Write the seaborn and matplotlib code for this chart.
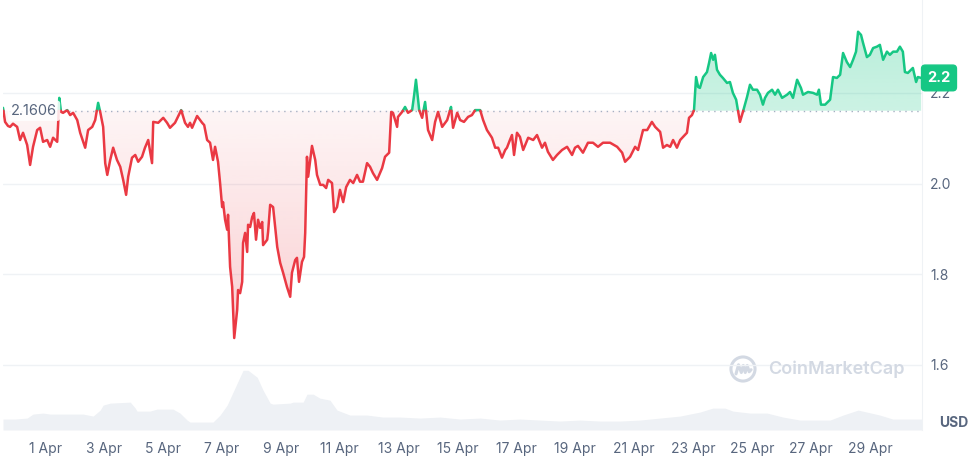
import numpy as np
import pandas as pd
import matplotlib
matplotlib.use("Agg")
import matplotlib.pyplot as plt
import seaborn as sns
from matplotlib.path import Path
from matplotlib.patches import Circle
from matplotlib.colors import to_rgb
from matplotlib.transforms import blended_transform_factory

# price: days since 1 Apr 00:00 and price in USD
t_days = [
    -1.43, -1.36, -1.26, -1.19, -1.09, -0.95, -0.85, -0.75, -0.61, -0.51,
    -0.41, -0.27, -0.17, -0.07, 0.07, 0.17, 0.27, 0.41, 0.44, 0.48,
    0.54, 0.61, 0.75, 0.85, 0.95, 1.09, 1.19, 1.36, 1.46, 1.60,
    1.70, 1.80, 1.87, 1.97, 2.04, 2.11, 2.21, 2.31, 2.44, 2.55,
    2.65, 2.75, 2.82, 2.95, 3.06, 3.16, 3.29, 3.39, 3.50, 3.63,
    3.67, 3.84, 4.01, 4.14, 4.24, 4.41, 4.62, 4.75, 4.85, 4.92,
    4.99, 5.16, 5.33, 5.40, 5.50, 5.60, 5.70, 5.77, 5.87, 5.94,
    6.01, 6.04, 6.11, 6.18, 6.21, 6.28, 6.35, 6.42, 6.52, 6.55,
    6.62, 6.69, 6.72, 6.79, 6.86, 6.89, 6.96, 7.03, 7.09, 7.16,
    7.23, 7.30, 7.37, 7.40, 7.54, 7.57, 7.64, 7.74, 7.81, 7.88,
    7.98, 8.08, 8.21, 8.32, 8.38, 8.49, 8.55, 8.62, 8.72, 8.79,
    8.83, 8.89, 8.93, 9.06, 9.17, 9.23, 9.34, 9.44, 9.54, 9.61,
    9.74, 9.81, 9.91, 10.01, 10.12, 10.22, 10.35, 10.46, 10.59, 10.69,
    10.79, 10.93, 11.03, 11.13, 11.27, 11.44, 11.54, 11.68, 11.75, 11.81,
    11.95, 11.98, 12.12, 12.22, 12.32, 12.46, 12.53, 12.59, 12.70, 12.80,
    12.90, 13.00, 13.14, 13.24, 13.34, 13.48, 13.65, 13.78, 13.85, 13.99,
    14.09, 14.22, 14.36, 14.49, 14.60, 14.77, 14.87, 15.00, 15.17, 15.28,
    15.38, 15.51, 15.62, 15.68, 15.78, 15.85, 15.92, 16.02, 16.12, 16.23,
    16.40, 16.57, 16.70, 16.87, 16.97, 17.07, 17.24, 17.38, 17.55, 17.72,
    17.89, 17.99, 18.09, 18.26, 18.43, 18.60, 18.77, 18.94, 19.18, 19.42,
    19.59, 19.69, 19.86, 20.03, 20.13, 20.30, 20.44, 20.60, 20.71, 20.88,
    20.98, 21.11, 21.22, 21.32, 21.45, 21.56, 21.66, 21.79, 21.86, 21.96,
    22.03, 22.10, 22.17, 22.23, 22.34, 22.47, 22.54, 22.61, 22.68, 22.74,
    22.81, 22.91, 23.01, 23.15, 23.25, 23.35, 23.46, 23.52, 23.59, 23.69,
    23.83, 23.93, 24.03, 24.17, 24.27, 24.37, 24.44, 24.54, 24.68, 24.78,
    24.88, 25.02, 25.19, 25.29, 25.39, 25.53, 25.66, 25.73, 25.90, 26.07,
    26.21, 26.27, 26.34, 26.48, 26.65, 26.75, 26.88, 26.99, 27.09, 27.22,
    27.33, 27.43, 27.53, 27.60, 27.70, 27.77, 27.90, 28.00, 28.11, 28.24,
    28.34, 28.45, 28.58, 28.68, 28.79, 28.92, 29.02, 29.12, 29.19, 29.29,
    29.46, 29.57, 29.63, 29.74,
]
price = [
    2.167, 2.136, 2.127, 2.125, 2.132, 2.125, 2.096, 2.112, 2.085, 2.041,
    2.081, 2.118, 2.123, 2.092, 2.096, 2.081, 2.101, 2.092, 2.129, 2.189,
    2.158, 2.156, 2.162, 2.151, 2.156, 2.140, 2.112, 2.079, 2.118, 2.125,
    2.140, 2.178, 2.158, 2.125, 2.045, 2.019, 2.052, 2.079, 2.052, 2.037,
    2.008, 1.975, 2.015, 2.057, 2.063, 2.048, 2.059, 2.079, 2.096, 2.045,
    2.136, 2.134, 2.145, 2.134, 2.123, 2.134, 2.162, 2.134, 2.125, 2.134,
    2.123, 2.149, 2.134, 2.129, 2.096, 2.090, 2.052, 2.081, 2.048, 2.001,
    1.948, 1.959, 1.920, 1.898, 1.931, 1.816, 1.772, 1.659, 1.721, 1.765,
    1.758, 1.783, 1.869, 1.891, 1.849, 1.909, 1.904, 1.926, 1.935, 1.876,
    1.920, 1.902, 1.915, 1.864, 1.876, 1.893, 1.953, 1.948, 1.904, 1.860,
    1.825, 1.803, 1.772, 1.750, 1.803, 1.831, 1.836, 1.783, 1.827, 1.838,
    1.891, 2.059, 2.015, 2.083, 2.052, 2.019, 1.997, 1.997, 1.990, 2.008,
    2.001, 1.937, 1.948, 1.986, 1.959, 1.992, 2.008, 2.001, 2.019, 2.004,
    2.004, 2.045, 2.037, 2.023, 2.008, 2.034, 2.059, 2.068, 2.158, 2.156,
    2.125, 2.147, 2.158, 2.169, 2.156, 2.162, 2.196, 2.229, 2.162, 2.145,
    2.180, 2.118, 2.096, 2.136, 2.158, 2.125, 2.140, 2.169, 2.123, 2.156,
    2.140, 2.136, 2.147, 2.151, 2.162, 2.162, 2.140, 2.118, 2.101, 2.079,
    2.079, 2.057, 2.074, 2.079, 2.096, 2.107, 2.063, 2.112, 2.103, 2.074,
    2.101, 2.096, 2.107, 2.079, 2.090, 2.070, 2.052, 2.063, 2.074, 2.081,
    2.063, 2.079, 2.083, 2.068, 2.090, 2.090, 2.081, 2.090, 2.090, 2.081,
    2.068, 2.048, 2.059, 2.081, 2.074, 2.118, 2.118, 2.136, 2.125, 2.114,
    2.079, 2.085, 2.081, 2.096, 2.079, 2.096, 2.103, 2.112, 2.145, 2.151,
    2.162, 2.235, 2.213, 2.211, 2.235, 2.246, 2.266, 2.288, 2.273, 2.284,
    2.251, 2.240, 2.233, 2.222, 2.224, 2.200, 2.185, 2.162, 2.136, 2.158,
    2.191, 2.218, 2.207, 2.207, 2.196, 2.174, 2.189, 2.200, 2.207, 2.196,
    2.207, 2.189, 2.196, 2.202, 2.189, 2.229, 2.211, 2.196, 2.202, 2.200,
    2.196, 2.207, 2.174, 2.174, 2.185, 2.235, 2.233, 2.240, 2.288, 2.268,
    2.257, 2.273, 2.291, 2.335, 2.328, 2.310, 2.279, 2.284, 2.299, 2.302,
    2.306, 2.273, 2.291, 2.284, 2.291, 2.291, 2.302, 2.291, 2.246, 2.244,
    2.255, 2.224, 2.235, 2.233,
]

# trading volume (relative), same time axis
vol_t = [
    -1.43, -1.02, -0.61, -0.41, -0.07, 0.17, 1.29, 1.63, 1.87, 1.97,
    2.21, 2.89, 3.06, 3.12, 3.56, 3.80, 4.34, 4.58, 4.82, 4.92,
    5.70, 5.94, 6.18, 6.38, 6.72, 6.89, 7.20, 7.40, 7.64, 7.74,
    8.32, 8.42, 8.76, 8.89, 9.10, 9.33, 9.67, 9.91, 10.35, 10.93,
    11.47, 12.05, 12.73, 13.41, 14.09, 14.77, 15.44, 16.12, 16.80, 17.48,
    18.16, 18.84, 19.52, 20.20, 20.88, 21.56, 21.89, 22.23, 22.67, 23.08,
    23.35, 23.93, 24.51, 25.05, 25.63, 26.65, 27.09, 27.60, 27.90, 28.34,
    28.78, 29.77,
]
volume = [
    11, 11, 12, 16, 17, 16, 16, 14, 20, 25,
    27, 28, 22, 19, 19, 21, 21, 17, 10, 8,
    8, 15, 25, 38, 60, 60, 53, 40, 27, 26,
    27, 28, 28, 36, 36, 32, 30, 20, 15, 15,
    13, 13, 12, 13, 11, 12, 10, 11, 10, 9,
    10, 9, 9, 10, 12, 14, 16, 18, 22, 22,
    19, 17, 17, 13, 10, 10, 15, 20, 18, 15,
    11, 11,
]

base_price = 2.1606
base_label = "2.1606"
last_label = "2.2"
xtick_days = [0, 2, 4, 6, 8, 10, 12, 14, 16, 18, 20, 22, 24, 26, 28]
xtick_labels = ["1 Apr", "3 Apr", "5 Apr", "7 Apr", "9 Apr", "11 Apr", "13 Apr",
                "15 Apr", "17 Apr", "19 Apr", "21 Apr", "23 Apr", "25 Apr",
                "27 Apr", "29 Apr"]
ytick_vals = [1.6, 1.8, 2.0, 2.2]
ytick_labels = ["1.6", "1.8", "2.0", "2.2"]

RED = "#ea3943"
GREEN = "#16c784"
GREY = "#58667e"
GRID = "#eff2f5"

sns.set_style("white")
plt.rcParams["font.family"] = ["Inter", "DejaVu Sans"]

fig = plt.figure(figsize=(9.75, 4.58), dpi=100)
ax = fig.add_axes([3 / 975, 28 / 458, 919 / 975, 430 / 458])
ax2 = ax.twinx()
ax.set_zorder(ax2.get_zorder() + 1)
ax.patch.set_visible(False)

# volume band at the bottom
ax2.fill_between(vol_t, volume, color="#eef1f5", lw=0)
ax2.set_ylim(0, max(volume) * 7.2)
ax2.set_yticks([])
for s in ax2.spines.values():
    s.set_visible(False)

# split the price line where it crosses the opening price
t = np.array(t_days)
p = np.array(price)
rows = []
seg = 0
cur = p[0] >= base_price
for i in range(len(t)):
    up = p[i] >= base_price
    if i > 0 and up != cur:
        f = (base_price - p[i - 1]) / (p[i] - p[i - 1])
        tc = t[i - 1] + f * (t[i] - t[i - 1])
        rows.append((tc, base_price, seg, "up" if cur else "down"))
        seg += 1
        rows.append((tc, base_price, seg, "up" if up else "down"))
        cur = up
    rows.append((t[i], p[i], seg, "up" if cur else "down"))
df = pd.DataFrame(rows, columns=["t", "p", "seg", "side"])
xd = df["t"].to_numpy()
yd = df["p"].to_numpy()


def gradient_fill(mask, color, y0, y1, a0, a1):
    coll = ax.fill_between(xd, yd, base_price, where=mask, interpolate=True,
                           color="none", lw=0)
    path = Path.make_compound_path(*coll.get_paths())
    rgba = np.zeros((256, 1, 4))
    rgba[..., :3] = to_rgb(color)
    rgba[:, 0, 3] = np.linspace(a0, a1, 256)
    im = ax.imshow(rgba, extent=[xd.min(), xd.max(), y0, y1], origin="lower",
                   aspect="auto", zorder=1, interpolation="bilinear")
    im.set_clip_path(path, ax.transData)


gradient_fill(yd <= base_price + 1e-9, RED, 1.65, base_price, 0.25, 0.05)
gradient_fill(yd >= base_price - 1e-9, GREEN, base_price, 2.34, 0.22, 0.3)

sns.lineplot(data=df, x="t", y="p", hue="side", units="seg", estimator=None,
             sort=False, palette={"up": GREEN, "down": RED}, lw=1.8,
             legend=False, ax=ax, zorder=3)

ax.axhline(base_price, color="#a6b0c3", ls=(0, (1, 3.3)), lw=1, zorder=2)

ax.set_xlim(-1.43, 29.77)
ax.set_ylim(1.456, 2.405)
ax.set_xlabel("")
ax.set_ylabel("")
ax.set_xticks(xtick_days)
ax.set_xticklabels(xtick_labels)
ax.yaxis.tick_right()
ax.set_yticks(ytick_vals)
ax.set_yticklabels(ytick_labels)
ax.tick_params(axis="x", length=0, labelsize=10, labelcolor=GREY, pad=9)
ax.tick_params(axis="y", length=0, labelsize=10, labelcolor=GREY, pad=6)
ax.grid(axis="y", color=GRID, lw=1)
ax.grid(axis="x", visible=False)
ax.set_axisbelow(True)
for name, s in ax.spines.items():
    s.set_visible(name == "right")
ax.spines["right"].set_color(GRID)

blend = blended_transform_factory(ax.transAxes, ax.transData)
ax.text(0.0087, base_price, base_label, transform=blend, ha="left", va="center",
        fontsize=10.5, color=GREY, zorder=6,
        bbox=dict(boxstyle="round,pad=0.22", fc="white", ec="none", alpha=0.85))
ax.text(1 + 17 / 919, price[-1], last_label, transform=blend, ha="center",
        va="center", fontsize=10.5, weight="bold", color="white", zorder=10,
        clip_on=False,
        bbox=dict(boxstyle="round,pad=0.4,rounding_size=0.25", fc=GREEN, ec=GREEN))

fig.text(968 / 975, 1 - 423 / 458, "USD", ha="right", va="center", fontsize=10,
         weight="bold", color=GREY)

# CoinMarketCap watermark
WM = "#d3d9e3"
fig.text(768 / 975, 1 - 369 / 458, "CoinMarketCap", ha="left", va="center",
         fontsize=13, weight="semibold", color=WM)
lax = fig.add_axes([(743 - 14) / 975, (458 - 369 - 14) / 458, 28 / 975, 28 / 458])
lax.set_xlim(-1, 1)
lax.set_ylim(-1, 1)
lax.set_aspect("equal")
lax.axis("off")
lax.add_patch(Circle((0, 0), 0.86, fill=False, lw=2.2, ec=WM))
lax.plot([-0.5, -0.32, -0.12, 0.02, 0.16, 0.3, 0.44, 0.58],
         [-0.35, 0.3, -0.25, 0.25, -0.25, 0.25, -0.2, -0.05],
         color=WM, lw=2.2, solid_capstyle="round")

fig.savefig("out.png", dpi=100)
